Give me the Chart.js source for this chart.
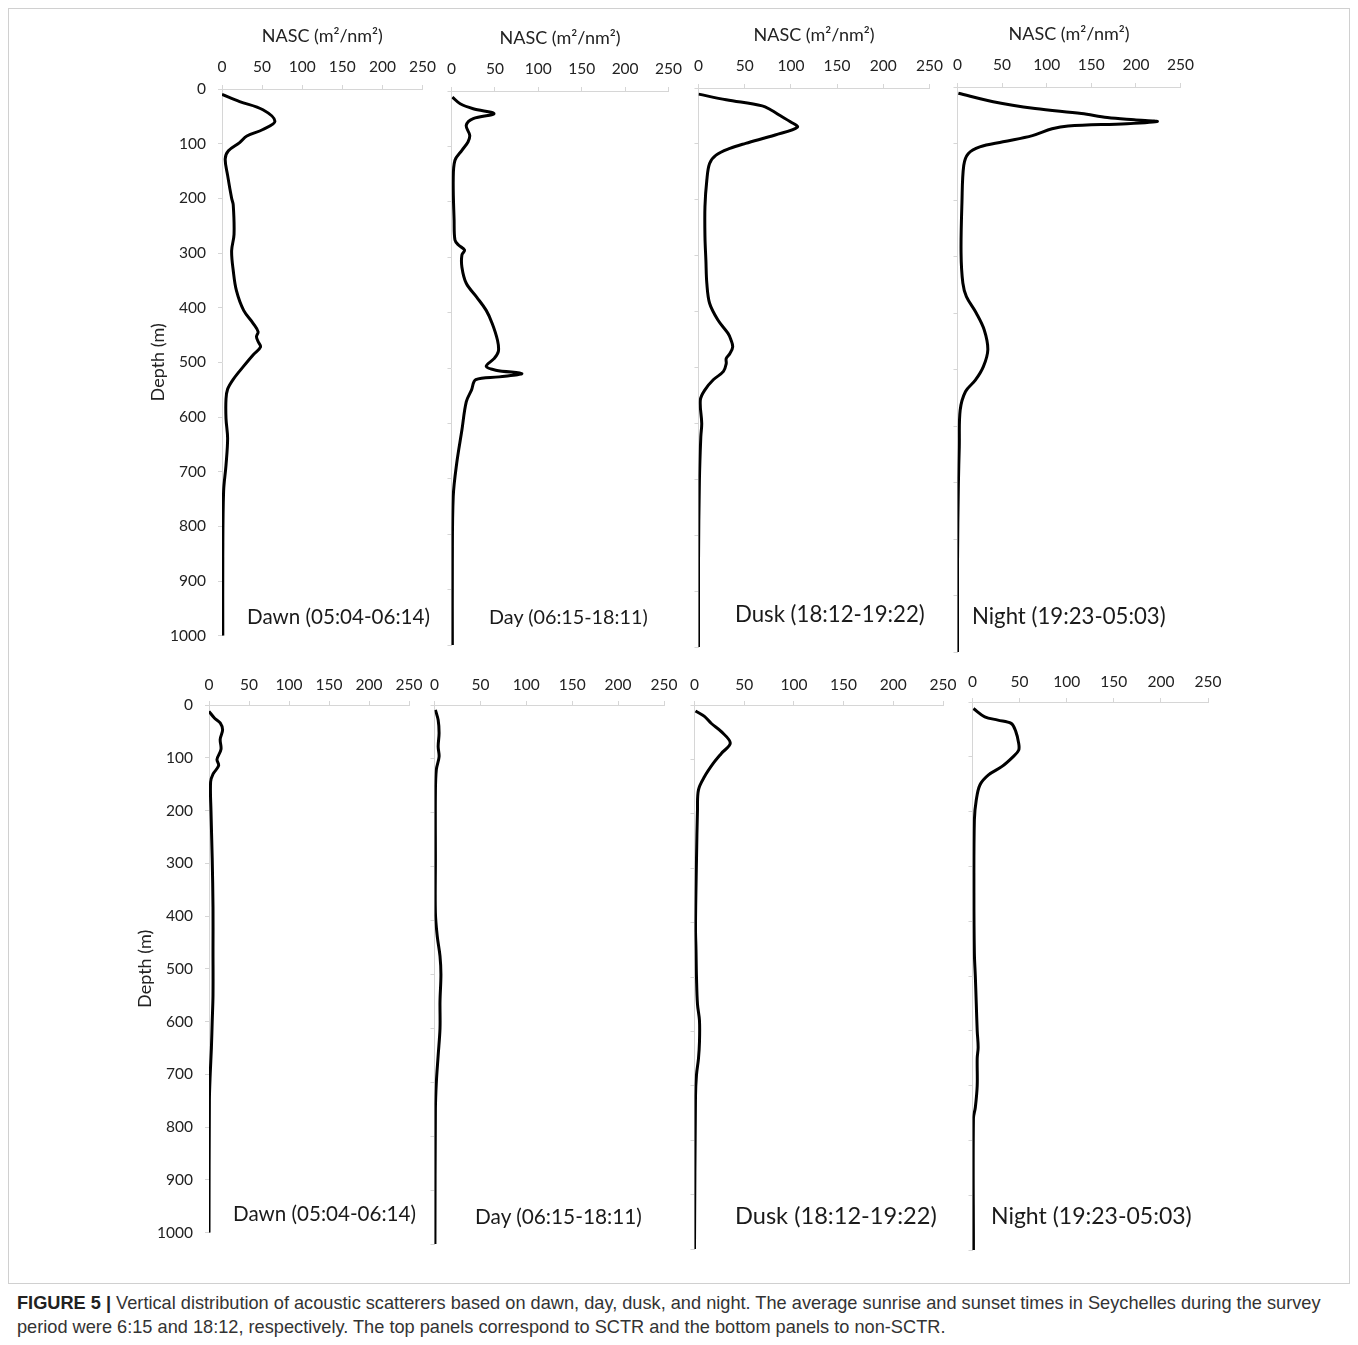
<!DOCTYPE html>
<html>
<head>
<meta charset="utf-8">
<title>Vertical distribution of acoustic scatterers</title>
<script src="https://cdn.jsdelivr.net/npm/chart.js@4.4.0/dist/chart.umd.min.js"></script>
<style>
  html, body { margin: 0; padding: 0; background: #fff; }
  #fig { position: relative; width: 1358px; height: 1345px; overflow: hidden; font-family: Lato, sans-serif; }
  #fig canvas { position: absolute; }
  .frame { position: absolute; left: 8px; top: 8px; width: 1342px; height: 1276px; border: 1px solid #d0d0d0; box-sizing: border-box; }
  .tag { position: absolute; color: #1a1a1a; white-space: nowrap; line-height: 1; font-family: Lato, sans-serif; }
  .caption { position: absolute; left: 17px; top: 1291px; font-family: "Liberation Sans", Arial, sans-serif; font-size: 18.2px; line-height: 24px; color: #333; white-space: nowrap; }
  .caption b { color: #222; }
</style>
</head>
<body>
<div id="fig">
  <div class="frame"></div>
  <div class="caption"><b>FIGURE 5 |</b> Vertical distribution of acoustic scatterers based on dawn, day, dusk, and night. The average sunrise and sunset times in Seychelles during the survey<br>period were 6:15 and 18:12, respectively. The top panels correspond to SCTR and the bottom panels to non-SCTR.</div>
</div>
<script>
// ---- NASC (m²/nm²) profiles against depth (m) ----
// SCTR (top row)
const dawnSctrDepth = [10, 23, 38, 59, 74, 86, 98, 113, 128, 158, 200, 212, 266, 296, 332, 369, 405, 429, 444, 453, 462, 472, 486, 507, 531, 549, 567, 603, 639, 688, 736, 856, 1000];
const dawnSctrNasc  = [0, 22, 51, 66, 51, 31, 22, 8, 4, 7, 12, 14, 15, 12, 14, 18, 27, 39, 45, 43, 45, 48, 39, 27, 14, 7, 5, 5, 7, 5, 2, 1, 1];

const daySctrDepth = [11, 23, 32, 41, 50, 62, 80, 92, 107, 125, 161, 233, 269, 278, 287, 296, 318, 347, 372, 396, 420, 450, 470, 483, 497, 504, 510, 516, 521, 540, 561, 612, 672, 732, 853, 1000];
const daySctrNasc  = [1, 10, 25, 49, 25, 17, 21, 19, 12, 4, 2, 3, 4, 8, 15, 12, 12, 17, 29, 40, 47, 53, 54, 49, 40, 51, 81, 55, 28, 23, 17, 12, 6, 2, 1, 1];

const duskSctrDepth = [11, 21, 32, 39, 51, 60, 70, 84, 99, 108, 120, 135, 165, 212, 266, 308, 349, 385, 415, 439, 450, 463, 475, 484, 493, 507, 522, 540, 558, 600, 624, 701, 850, 1000];
const duskSctrNasc  = [0, 30, 69, 78, 90, 99, 107, 83, 51, 34, 19, 12, 9, 7, 7, 8, 9, 12, 21, 32, 35, 37, 34, 30, 30, 27, 16, 7, 2, 3.5, 2.5, 1, 0, 0];

const nightSctrDepth = [11, 26, 38, 47, 54, 58, 61, 65, 69, 74, 86, 97, 106, 118, 139, 204, 294, 347, 371, 400, 430, 465, 495, 519, 539, 572, 637, 702, 843, 1000];
const nightSctrNasc  = [1, 40, 87, 139, 168, 198, 224, 190, 124, 106, 84, 51, 25, 12, 7, 5, 4, 6, 10, 21, 30, 34, 29, 20, 9, 3, 2, 1, 0, 0];

// non-SCTR (bottom row)
const dawnNonDepth = [12, 25, 34, 47, 65, 84, 103, 115, 131, 146, 202, 290, 383, 464, 550, 600, 650, 700, 750, 1000];
const dawnNonNasc  = [0, 7, 14, 17, 14, 15, 10, 12, 5, 2, 2.5, 4, 5, 5, 5, 4, 3, 1.5, 0.5, 0];

const dayNonDepth = [9, 28, 52, 77, 96, 120, 163, 286, 386, 429, 466, 500, 550, 600, 650, 700, 750, 1000];
const dayNonNasc  = [1, 4, 5, 4, 5, 2, 1, 1, 1, 3, 6, 7, 6, 6, 4, 2, 1, 0.5];

const duskNonDepth = [11, 21, 34, 49, 70, 89, 107, 132, 156, 193, 285, 407, 450, 500, 550, 580, 620, 650, 680, 720, 1000];
const duskNonNasc  = [1, 10, 17, 27, 36, 27, 19, 10, 4, 3, 2, 1, 1.5, 2, 3, 5, 5, 4, 2, 1, 0];

const nightNonDepth = [12, 27, 33, 39, 54, 75, 88, 100, 118, 133, 151, 179, 215, 349, 459, 500, 550, 600, 630, 650, 700, 740, 760, 1000];
const nightNonNasc  = [1, 13, 27, 41, 46, 49, 49, 43, 31, 17, 8, 4, 2, 1.5, 2, 3, 4, 5, 6, 5, 5, 3, 1, 1];

// Period names shown inside each panel
const periodLabels = ['Dawn (05:04-06:14)', 'Day (06:15-18:11)', 'Dusk (18:12-19:22)', 'Night (19:23-05:03)'];

// Axis settings
const nascRange = [0, 250];
const nascStep = 50;
const depthRange = [0, 1000];
const depthStep = 100;
const nascTitle = 'NASC (m\u00B2/nm\u00B2)';
const depthTitle = 'Depth (m)';

// ---- panel placement (plot-area boxes on the page) ----
const panels = [
  { depth: dawnSctrDepth,  nasc: dawnSctrNasc,  label: 0, area: { l: 222, r: 423, t: 89,  b: 643 },  yLabels: true,  xTitle: true,  tag: { x: 247, y: 616, s: 20.6 } },
  { depth: daySctrDepth,   nasc: daySctrNasc,   label: 1, area: { l: 448, r: 669, t: 91,  b: 645 },  yLabels: false, xTitle: true,  tag: { x: 489, y: 617, s: 19.8 } },
  { depth: duskSctrDepth,  nasc: duskSctrNasc,  label: 2, area: { l: 695, r: 930, t: 88,  b: 647 },  yLabels: false, xTitle: true,  tag: { x: 735, y: 614, s: 22.2 } },
  { depth: nightSctrDepth, nasc: nightSctrNasc, label: 3, area: { l: 954, r: 1181, t: 87, b: 652 },  yLabels: false, xTitle: true,  tag: { x: 972, y: 616, s: 22.2 } },
  { depth: dawnNonDepth,   nasc: dawnNonNasc,   label: 0, area: { l: 209, r: 409, t: 705, b: 1240 }, yLabels: true,  xTitle: false, tag: { x: 233, y: 1213, s: 20.6 } },
  { depth: dayNonDepth,    nasc: dayNonNasc,    label: 1, area: { l: 433, r: 664, t: 705, b: 1244 }, yLabels: false, xTitle: false, tag: { x: 475, y: 1216, s: 20.8 } },
  { depth: duskNonDepth,   nasc: duskNonNasc,   label: 2, area: { l: 693, r: 943, t: 705, b: 1249 }, yLabels: false, xTitle: false, tag: { x: 735, y: 1216, s: 23.6 } },
  { depth: nightNonDepth,  nasc: nightNonNasc,  label: 3, area: { l: 971, r: 1208, t: 702, b: 1250 }, yLabels: false, xTitle: false, tag: { x: 991, y: 1215, s: 23 } }
];

Chart.defaults.font.family = 'Lato, sans-serif';
Chart.defaults.font.size = 15.5;
Chart.defaults.color = '#222';

const axisGrey = '#d6d6d6';
const fig = document.getElementById('fig');

panels.forEach((p) => {
  const yAxisW = p.yLabels ? 80 : 10;
  const xAxisH = p.xTitle ? 69 : 30;
  const padR = 22, padB = 14;
  const a = p.area;
  const w = (a.r - a.l) + yAxisW + padR;
  const h = (a.b - a.t) + xAxisH + padB;

  const canvas = document.createElement('canvas');
  canvas.width = w; canvas.height = h;
  canvas.style.left = (a.l - yAxisW) + 'px';
  canvas.style.top = (a.t - xAxisH) + 'px';
  canvas.style.width = w + 'px';
  canvas.style.height = h + 'px';
  fig.appendChild(canvas);

  const points = p.depth.map((d, i) => ({ x: p.nasc[i], y: d }));

  new Chart(canvas, {
    type: 'scatter',
    data: {
      datasets: [{
        data: points,
        showLine: true,
        borderColor: '#000',
        borderWidth: 3,
        pointRadius: 0,
        tension: 0.35,
        fill: false
      }]
    },
    options: {
      responsive: false,
      animation: false,
      devicePixelRatio: 1,
      layout: { autoPadding: false, padding: { left: 0, top: 0, right: padR, bottom: padB } },
      plugins: { legend: { display: false }, tooltip: { enabled: false } },
      scales: {
        x: {
          type: 'linear',
          position: 'top',
          min: nascRange[0], max: nascRange[1],
          ticks: { stepSize: nascStep, padding: p.xTitle ? 9 : 7, maxRotation: 0, color: '#222', callback: (v) => String(v) },
          grid: { drawOnChartArea: false, drawTicks: true, tickLength: 4, color: axisGrey },
          border: { display: true, color: axisGrey, width: 1 },
          title: { display: p.xTitle, text: nascTitle, padding: 5, color: '#222', font: { size: 18 } },
          afterFit: (s) => { s.height = xAxisH; }
        },
        y: {
          type: 'linear',
          position: 'left',
          reverse: true,
          min: depthRange[0], max: depthRange[1],
          ticks: { stepSize: depthStep, padding: 12, display: p.yLabels, color: '#222', callback: (v) => String(v) },
          grid: { drawOnChartArea: false, drawTicks: true, tickLength: 4, color: axisGrey },
          border: { display: true, color: axisGrey, width: 1 },
          title: { display: p.yLabels, text: depthTitle, padding: 5, color: '#222', font: { size: 18 } },
          afterFit: (s) => { s.width = yAxisW; }
        }
      }
    }
  });

  const tag = document.createElement('div');
  tag.className = 'tag';
  tag.textContent = periodLabels[p.label];
  tag.style.fontSize = p.tag.s + 'px';
  tag.style.left = p.tag.x + 'px';
  tag.style.top = (p.tag.y - p.tag.s / 2) + 'px';
  fig.appendChild(tag);
});
</script>
</body>
</html>
